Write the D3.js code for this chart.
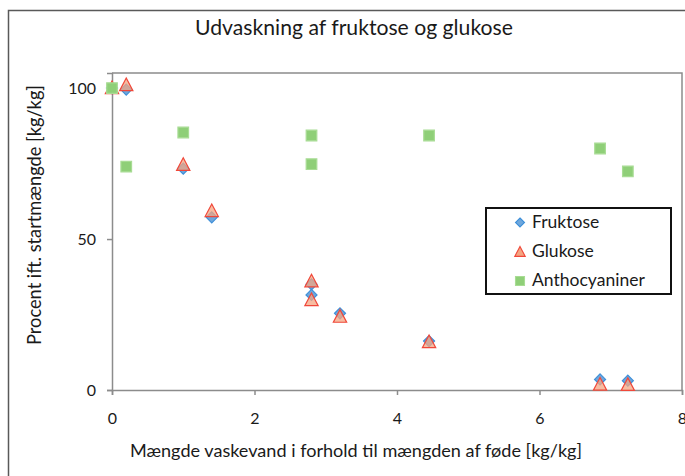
<!DOCTYPE html>
<html>
<head>
<meta charset="utf-8">
<script src="https://cdn.jsdelivr.net/npm/d3@7"></script>
<style>
  html, body { margin: 0; padding: 0; background: #fff; }
  svg { display: block; }
  text { font-family: Lato, "Open Sans", "Liberation Sans", sans-serif; fill: #1a1a1a; }
</style>
</head>
<body>
<svg id="chart" width="685" height="476"></svg>
<script>
// ---- data ----
const title = "Udvaskning af fruktose og glukose";
const xTitle = "Mængde vaskevand i forhold til mængden af føde [kg/kg]";
const yTitle = "Procent ift. startmængde [kg/kg]";
const seriesNames = ["Fruktose", "Glukose", "Anthocyaniner"];

const fruktoseX = [0, 0.2, 1.0, 1.4, 2.8, 2.8, 3.2, 4.45, 6.85, 7.24];
const fruktoseY = [100, 99.5, 73.3, 57.2, 35.0, 31.5, 25.4, 16.2, 3.5, 3.1];

const glukoseX = [0, 0.2, 1.0, 1.4, 2.8, 2.8, 3.2, 4.45, 6.85, 7.24];
const glukoseY = [100, 101, 74.6, 59.3, 36.0, 29.8, 24.3, 15.9, 1.8, 1.7];

const anthoX = [0, 0.2, 1.0, 2.8, 2.8, 4.45, 6.85, 7.24];
const anthoY = [100, 74.0, 85.3, 84.3, 74.8, 84.3, 80.0, 72.4];

const xTicks = [0, 2, 4, 6, 8];
const yTicks = [0, 50, 100];

// ---- layout ----
const W = 685, H = 476;
const plot = { left: 112, right: 682, top: 73, bottom: 390 };

const svg = d3.select("#chart");

const x = d3.scaleLinear().domain([0, 8]).range([plot.left, plot.right]);
const y = d3.scaleLinear().domain([0, 105]).range([plot.bottom, plot.top]);

// outer chart border
svg.append("path")
  .attr("d", `M8.5,${H} L8.5,10.5 L${W},10.5`)
  .attr("fill", "none").attr("stroke", "#595959").attr("stroke-width", 1.5);

// plot area border (top & right)
svg.append("path")
  .attr("d", `M${plot.left},${plot.top} L${plot.right},${plot.top} L${plot.right},${plot.bottom}`)
  .attr("fill", "none").attr("stroke", "#8c8c8c").attr("stroke-width", 1.5);

function fitText(sel, target) {
  const len = sel.node().getComputedTextLength();
  const fs = parseFloat(sel.attr("font-size"));
  sel.attr("font-size", (fs * target / len).toFixed(2));
}

// axes
const xAxis = svg.append("g")
  .attr("transform", `translate(0,${plot.bottom})`)
  .call(d3.axisBottom(x).tickValues(xTicks).tickFormat(d3.format("d")).tickSize(5).tickPadding(18));
const yAxis = svg.append("g")
  .attr("transform", `translate(${plot.left},0)`)
  .call(d3.axisLeft(y).tickValues(yTicks).tickFormat(d3.format("d")).tickSize(5).tickPadding(11));

[xAxis, yAxis].forEach(g => {
  g.select(".domain").attr("stroke", "#8c8c8c").attr("stroke-width", 1.5);
  g.selectAll(".tick line").attr("stroke", "#8c8c8c").attr("stroke-width", 1.5);
  g.selectAll(".tick text").attr("font-size", 16).attr("fill", "#111")
    .style("font-family", 'Lato, "Open Sans", sans-serif');
});
yAxis.selectAll(".tick text").attr("dy", "0.36em");

// titles
const t = svg.append("text").attr("x", 354).attr("y", 35).attr("text-anchor", "middle")
  .attr("font-size", 18).text(title);
fitText(t, 318);

const xt = svg.append("text").attr("x", 356).attr("y", 457).attr("text-anchor", "middle")
  .attr("font-size", 16).text(xTitle);
fitText(xt, 452);

const yt = svg.append("text").attr("transform", "translate(41,215) rotate(-90)")
  .attr("text-anchor", "middle").attr("font-size", 16).text(yTitle);
fitText(yt, 260);

// markers
const diamond = s => `M0,${-s} L${s},0 L0,${s} L${-s},0 Z`;
const triangle = s => `M0,${-s} L${s * 0.95},${s * 0.8} L${-s * 0.95},${s * 0.8} Z`;
const square = s => `M${-s},${-s} L${s},${-s} L${s},${s} L${-s},${s} Z`;

const styles = [
  { path: diamond(5.5), fill: "#6fa7dc", stroke: "#3d8fd9", op: 1 },
  { path: triangle(7), fill: "#f4a582", stroke: "#f0483a", op: 0.75 },
  { path: square(5.3), fill: "#8fcf78", stroke: "#a8dc94", op: 1 }
];

const seriesData = [
  d3.zip(fruktoseX, fruktoseY),
  d3.zip(glukoseX, glukoseY),
  d3.zip(anthoX, anthoY)
];

seriesData.forEach((data, i) => {
  const st = styles[i];
  svg.append("g").selectAll("path").data(data).join("path")
    .attr("d", st.path)
    .attr("transform", d => `translate(${x(d[0])},${y(d[1])})`)
    .attr("fill", st.fill).attr("fill-opacity", st.op)
    .attr("stroke", st.stroke).attr("stroke-width", 1.2);
});

// legend
const lg = svg.append("g");
lg.append("rect").attr("x", 486).attr("y", 208).attr("width", 185).attr("height", 86)
  .attr("fill", "#fff").attr("stroke", "#111").attr("stroke-width", 2);
const legendRows = [221.5, 251, 280];
seriesNames.forEach((name, i) => {
  const st = styles[i];
  const small = [diamond(4.5), triangle(5.5), square(4.5)][i];
  lg.append("path").attr("d", small)
    .attr("transform", `translate(520,${legendRows[i] + 1})`)
    .attr("fill", st.fill).attr("stroke", st.stroke).attr("stroke-width", 1.1);
  const lt = lg.append("text").attr("x", 532).attr("y", legendRows[i]).attr("dy", "0.36em")
    .attr("font-size", 16).text(name);
  if (i === 2) fitText(lt, 113);
});
const legendFs = lg.selectAll("text").filter((d, i) => i === 2).attr("font-size");
lg.selectAll("text").attr("font-size", legendFs);
</script>
</body>
</html>
